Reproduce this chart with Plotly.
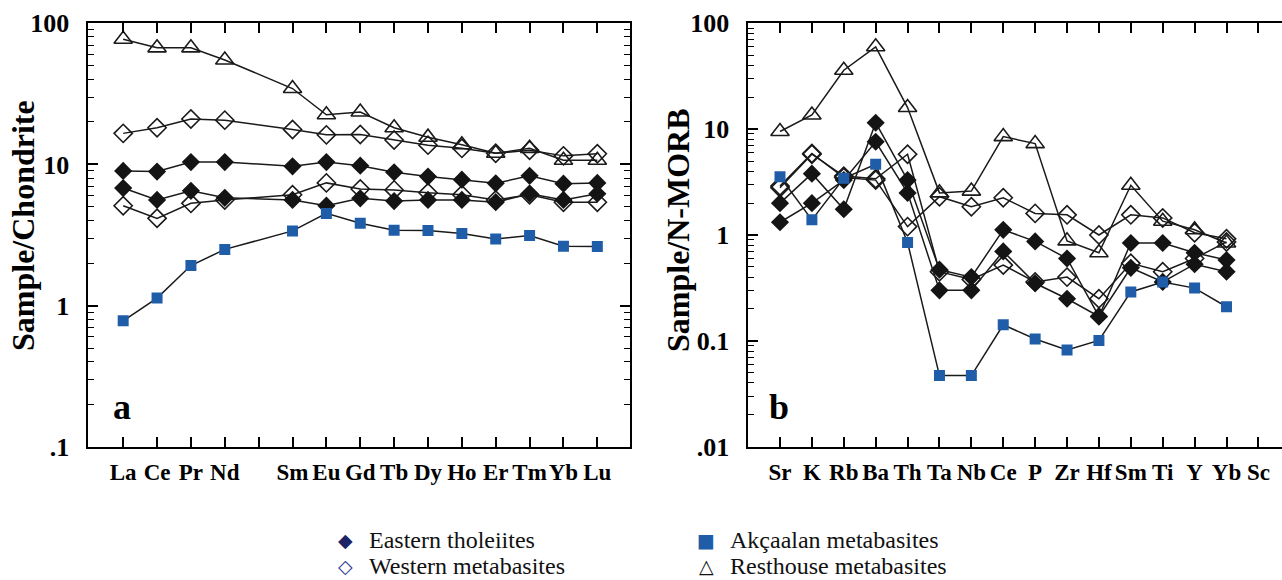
import plotly.graph_objects as go

FONT = "Liberation Serif"

# ---------------- data: panel a (chondrite-normalised REE) ----------------
ree_labels = ["La", "Ce", "Pr", "Nd", "", "Sm", "Eu", "Gd", "Tb", "Dy", "Ho", "Er", "Tm", "Yb", "Lu"]
ree_x = list(range(len(ree_labels)))

a_eastern_1 = [9.0, 8.9, 10.4, 10.4, None, 9.7, 10.4, 9.8, 8.8, 8.2, 7.8, 7.35, 8.3, 7.3, 7.4]
a_eastern_2 = [6.8, 5.6, 6.5, 5.8, None, 5.6, 5.1, 5.75, 5.5, 5.6, 5.6, 5.4, 6.2, 5.6, 6.2]
a_western_1 = [16.6, 18.2, 21.0, 20.6, None, 17.7, 16.2, 16.3, 14.9, 13.7, 13.0, 12.0, 12.6, 11.5, 11.9]
a_western_2 = [5.1, 4.15, 5.3, 5.6, None, 6.1, 7.4, 6.7, 6.6, 6.3, 6.1, 5.6, 6.1, 5.4, 5.4]
a_resthouse = [77, 67, 67, 55, None, 34.5, 22.5, 23.5, 18.2, 15.6, 13.8, 12.0, 13.0, 10.7, 10.7]
a_akcaalan = [0.78, 1.13, 1.92, 2.5, None, 3.38, 4.5, 3.83, 3.42, 3.4, 3.24, 2.96, 3.14, 2.63, 2.62]

# ---------------- data: panel b (N-MORB-normalised spider) ----------------
spider_labels = ["Sr", "K", "Rb", "Ba", "Th", "Ta", "Nb", "Ce", "P", "Zr", "Hf", "Sm", "Ti", "Y", "Yb", "Sc"]
spider_x = list(range(len(spider_labels)))

b_eastern_1 = [2.0, 3.8, 1.75, 11.5, 3.3, 0.47, 0.40, 1.12, 0.87, 0.60, 0.17, 0.84, 0.84, 0.68, 0.58, None]
b_eastern_2 = [1.32, 2.0, 3.3, 7.6, 2.5, 0.30, 0.30, 0.70, 0.35, 0.25, 0.17, 0.49, 0.36, 0.53, 0.45, None]
b_western_1 = [2.9, 5.9, 3.5, 3.3, 1.2, 2.3, 1.85, 2.25, 1.6, 1.55, 1.0, 1.55, 1.45, 1.05, 0.92, None]
b_western_2 = [2.8, 5.8, 3.6, 3.4, 5.8, 0.45, 0.38, 0.52, 0.36, 0.40, 0.25, 0.54, 0.45, 0.60, 0.86, None]
b_resthouse = [9.5, 13.6, 36, 60, 16, 2.5, 2.6, 8.5, 7.3, 0.88, 0.68, 2.95, 1.35, 1.12, 0.84, None]
b_akcaalan = [3.55, 1.39, 3.43, 4.65, 0.85, 0.047, 0.047, 0.142, 0.104, 0.082, 0.101, 0.29, 0.36, 0.315, 0.21, None]

legend_entries = ["Eastern tholeiites", "Western metabasites", "Akçaalan metabasites", "Resthouse metabasites"]
legend_symbols = ["◆", "◇", "■", "△"]

# ---------------- styles ----------------
LINE = "#1a1a1a"
BLUE = "#1f5da8"
styles = {
    "western": dict(symbol="diamond-open", size=14, color=LINE, lw=1.6),
    "resthouse": dict(symbol="triangle-up-open", size=16, color=LINE, lw=1.6),
    "eastern": dict(symbol="diamond", size=14, color="#141414", lw=0),
    "akcaalan": dict(symbol="square", size=11, color=BLUE, lw=0),
}

fig = go.Figure()


def add(x, y, kind, xa, ya):
    s = styles[kind]
    fig.add_trace(go.Scatter(
        x=x, y=y, xaxis=xa, yaxis=ya, mode="lines+markers", connectgaps=True,
        line=dict(color=LINE, width=1.5),
        marker=dict(symbol=s["symbol"], size=s["size"], color=s["color"],
                    line=dict(color=s["color"], width=s["lw"])),
        showlegend=False, hoverinfo="skip"))


for xa, ya, xs, sets in [
    ("x", "y", ree_x, [("western", a_western_1), ("western", a_western_2), ("resthouse", a_resthouse),
                       ("eastern", a_eastern_1), ("eastern", a_eastern_2), ("akcaalan", a_akcaalan)]),
    ("x2", "y2", spider_x, [("western", b_western_1), ("western", b_western_2), ("resthouse", b_resthouse),
                            ("eastern", b_eastern_1), ("eastern", b_eastern_2), ("akcaalan", b_akcaalan)]),
]:
    for kind, vals in sets:
        add(xs, vals, kind, xa, ya)

W, H = 1282, 580
ytop, ybot = 23.3, 446.7
ydom = [1 - ybot / H, 1 - ytop / H]


def minor_vals(lo, hi):
    out = []
    for e in range(lo, hi):
        for m in range(2, 10):
            out.append(m * 10 ** e)
    return out


axis_common = dict(showline=True, linecolor="black", linewidth=1.5, showgrid=False, zeroline=False,
                   ticks="inside", tickcolor="black", tickwidth=1.5, automargin=False)
xfont = dict(size=23, family=FONT, weight="bold")
yfont = dict(size=26, family=FONT, weight="bold")

fig.update_layout(
    width=W, height=H, margin=dict(l=0, r=0, t=0, b=0, pad=0), autosize=False,
    paper_bgcolor="white", plot_bgcolor="white",
    font=dict(family=FONT, color="black"),
    xaxis=dict(domain=[88.3 / W, 629.5 / W], range=[-1.03, 14.95], anchor="y",
               tickvals=ree_x, ticktext=ree_labels, ticklen=10, mirror="ticks", tickangle=0,
               tickfont=xfont, ticklabelstandoff=4, **axis_common),
    yaxis=dict(domain=ydom, type="log", range=[-1, 2], anchor="x",
               tickvals=[0.1, 1, 10, 100], ticktext=[".1", "1", "10", "100"], ticklen=10, mirror="ticks",
               minor=dict(ticks="inside", ticklen=6, tickwidth=1.2, tickcolor="black", tickvals=minor_vals(-1, 2)),
               tickfont=yfont, ticklabelstandoff=12, **axis_common),
    xaxis2=dict(domain=[748.3 / W, 1.0], range=[-0.994, 15.74], anchor="y2",
                tickvals=spider_x, ticktext=spider_labels, ticklen=10, mirror="ticks", tickangle=0,
                tickfont=xfont, ticklabelstandoff=4, **axis_common),
    yaxis2=dict(domain=ydom, type="log", range=[-2, 2], anchor="x2",
                tickvals=[0.01, 0.1, 1, 10, 100], ticktext=[".01", "0.1", "1", "10", "100"], ticklen=10,
                mirror=True,
                minor=dict(ticks="inside", ticklen=6, tickwidth=1.2, tickcolor="black", tickvals=minor_vals(-2, 2)),
                tickfont=yfont, ticklabelstandoff=12, **axis_common),
    yaxis3=dict(domain=ydom, type="log", range=[-2, 2], anchor="x2", overlaying="y2", side="right",
                tickvals=[0.01, 0.1, 1, 10, 100], showticklabels=False, ticks="inside", ticklen=10,
                tickwidth=1.5, tickcolor="black", showline=False, showgrid=False, zeroline=False,
                automargin=False),
)

ann = []
# axis titles
ann.append(dict(text="<b>Sample/Chondrite</b>", x=23 / W, y=1 - 226 / H, xref="paper", yref="paper",
                xanchor="center", yanchor="middle", textangle=-90, showarrow=False,
                font=dict(size=32, family=FONT)))
ann.append(dict(text="<b>Sample/N-MORB</b>", x=678 / W, y=1 - 230 / H, xref="paper", yref="paper",
                xanchor="center", yanchor="middle", textangle=-90, showarrow=False,
                font=dict(size=32, family=FONT)))
# panel letters
ann.append(dict(text="<b>a</b>", x=122 / W, y=1 - 407 / H, xref="paper", yref="paper",
                xanchor="center", yanchor="middle", showarrow=False, font=dict(size=36, family=FONT)))
ann.append(dict(text="<b>b</b>", x=779 / W, y=1 - 407 / H, xref="paper", yref="paper",
                xanchor="center", yanchor="middle", showarrow=False, font=dict(size=36, family=FONT)))
# legend (symbol + label as separate texts)
sym_colors = ["#1d2466", "#2b3a94", "#1f5da8", "#111111"]
sym_pos = [(345, 540), (345, 566), (706, 540), (706, 566)]
text_x = [367, 367, 728, 728]
for sym, col, (sx, sy), tx, label in zip(legend_symbols, sym_colors, sym_pos, text_x, legend_entries):
    ann.append(dict(text=sym, x=sx / W, y=1 - sy / H, xref="paper", yref="paper",
                    xanchor="center", yanchor="middle", showarrow=False,
                    font=dict(size=19, family="DejaVu Sans", color=col)))
    ann.append(dict(text=label, x=tx / W, y=1 - sy / H, xref="paper", yref="paper",
                    xanchor="left", yanchor="middle", showarrow=False,
                    font=dict(size=24, family=FONT, color="#111111")))
fig.update_layout(annotations=ann)

fig.write_html("out.html")
